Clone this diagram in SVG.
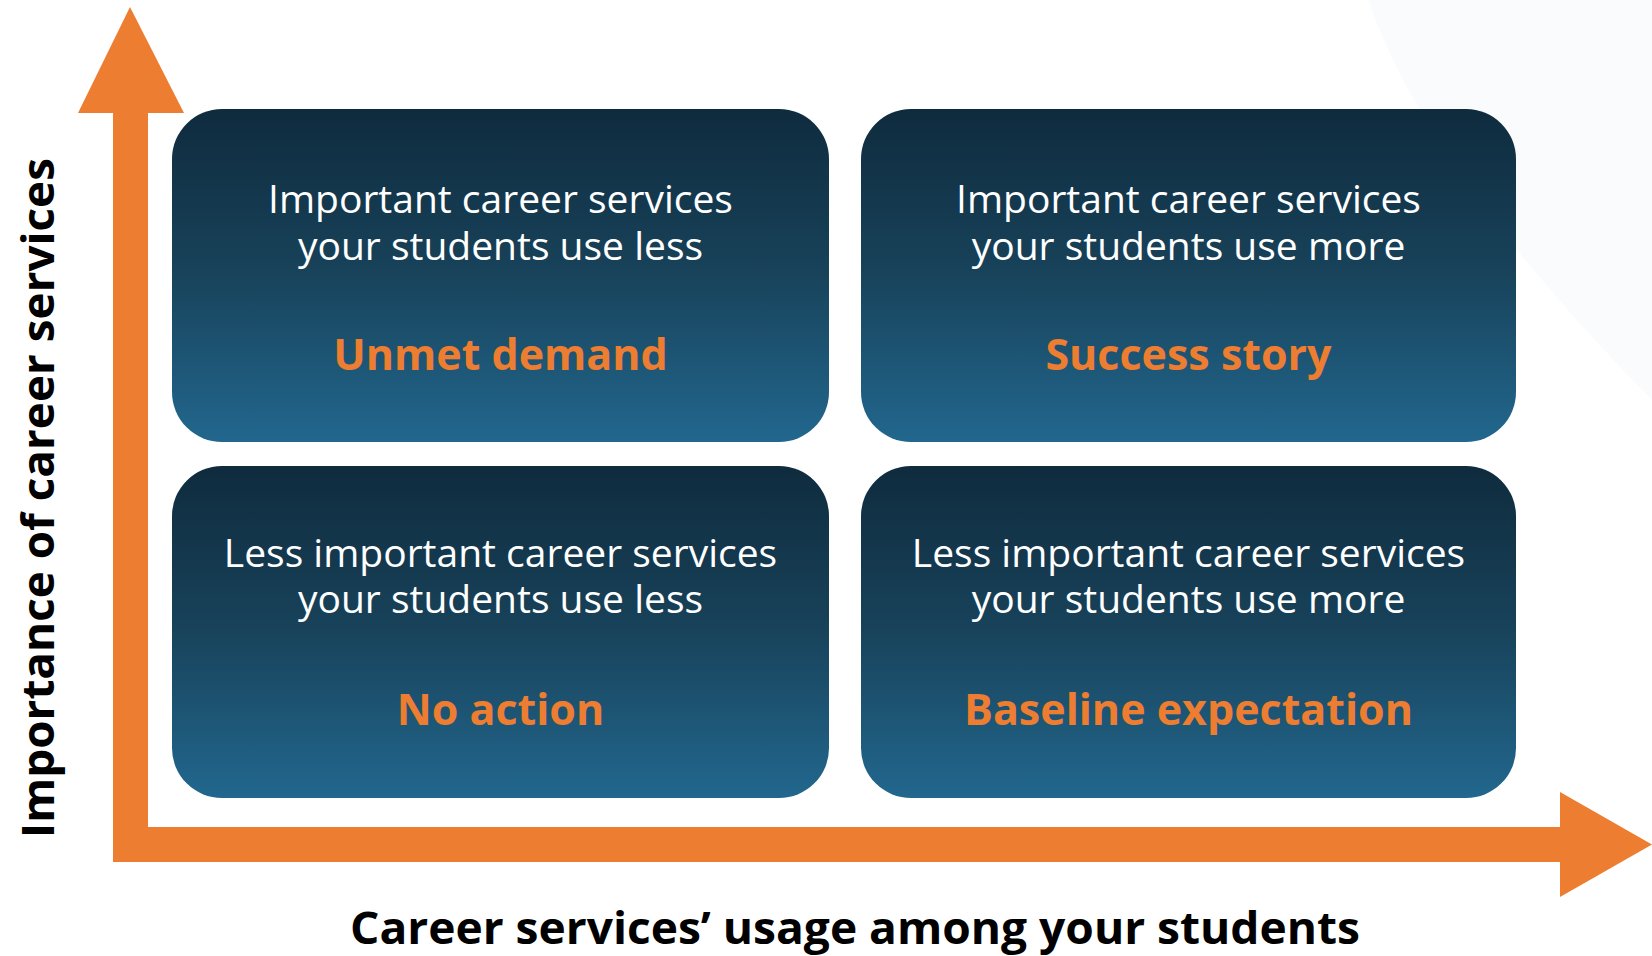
<svg xmlns="http://www.w3.org/2000/svg" width="1652" height="956" viewBox="0 0 1652 956">
  <defs>
    <linearGradient id="boxGrad" x1="0" y1="0" x2="0" y2="1">
      <stop offset="0" stop-color="#0f2b3e"/>
      <stop offset="0.5" stop-color="#18435b"/>
      <stop offset="1" stop-color="#22678e"/>
    </linearGradient>
    <style>
      .box { fill: url(#boxGrad); }
      .body { font-family: "Open Sans", "Noto Sans", "Liberation Sans", sans-serif; font-size: 39px; fill: #ffffff; text-anchor: middle; }
      .title { font-family: "Open Sans", "Noto Sans", "Liberation Sans", sans-serif; font-size: 43px; font-weight: 700; fill: #ed7d31; text-anchor: middle; }
      .axis { fill: #ed7d31; }
      .axislabel { font-family: "Open Sans", "Noto Sans", "Liberation Sans", sans-serif; font-size: 44px; font-weight: 700; fill: #000000; text-anchor: middle; }
    </style>
  </defs>
  <rect x="0" y="0" width="1652" height="956" fill="#ffffff"/>
  <path d="M1368,0 Q1430,175 1652,400 L1652,0 Z" fill="#fafbfc"/>

  <g id="connectors">
    <rect class="axis" x="113" y="112" width="35" height="750"/>
    <polygon class="axis" points="130,7 184,113 78,113"/>
    <rect class="axis" x="113" y="827" width="1448" height="35"/>
    <polygon class="axis" points="1560,792 1652,844.5 1560,897"/>
  </g>

  <g id="unmet-demand">
    <rect class="box" x="172" y="109" width="657" height="333" rx="50" ry="50"/>
    <text class="body"><tspan x="500.5" y="213">Important career services</tspan><tspan x="500.5" y="260">your students use less</tspan></text>
    <text class="title" x="500.5" y="370">Unmet demand</text>
  </g>

  <g id="success-story">
    <rect class="box" x="861" y="109" width="655" height="333" rx="50" ry="50"/>
    <text class="body"><tspan x="1188.5" y="213">Important career services</tspan><tspan x="1188.5" y="260">your students use more</tspan></text>
    <text class="title" x="1188.5" y="370">Success story</text>
  </g>

  <g id="no-action">
    <rect class="box" x="172" y="466" width="657" height="332" rx="50" ry="50"/>
    <text class="body"><tspan x="500.5" y="567">Less important career services</tspan><tspan x="500.5" y="613">your students use less</tspan></text>
    <text class="title" x="500.5" y="725">No action</text>
  </g>

  <g id="baseline-expectation">
    <rect class="box" x="861" y="466" width="655" height="332" rx="50" ry="50"/>
    <text class="body"><tspan x="1188.5" y="567">Less important career services</tspan><tspan x="1188.5" y="613">your students use more</tspan></text>
    <text class="title" x="1188.5" y="725">Baseline expectation</text>
  </g>

  <g id="y-axis-label">
    <text class="axislabel" transform="translate(54,498) rotate(-90)" textLength="680" lengthAdjust="spacingAndGlyphs">Importance of career services</text>
  </g>
  <g id="x-axis-label">
    <text class="axislabel" x="855" y="944" textLength="1010" lengthAdjust="spacingAndGlyphs">Career services’ usage among your students</text>
  </g>
</svg>
